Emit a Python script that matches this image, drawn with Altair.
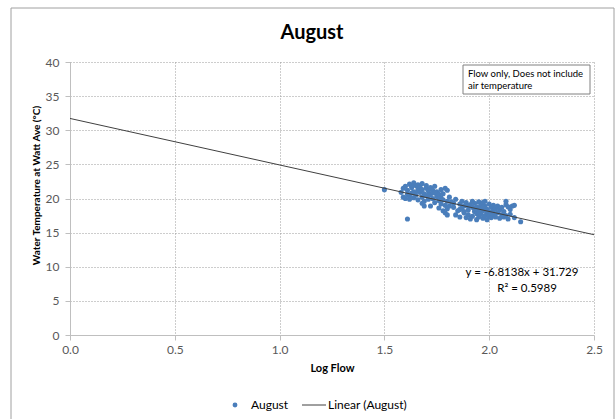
import altair as alt
import pandas as pd

# Scatter data (Log Flow, Water temperature)
log_flow = [
    1.50, 1.61,
    1.58, 1.59, 1.59, 1.60, 1.60, 1.61, 1.61, 1.62, 1.62, 1.62, 1.63, 1.63, 1.64, 1.64, 1.64,
    1.65, 1.65, 1.66, 1.66, 1.66, 1.67, 1.67, 1.68, 1.68, 1.68, 1.69, 1.69, 1.70, 1.70, 1.70,
    1.71, 1.71, 1.72, 1.72, 1.72, 1.73, 1.73, 1.74, 1.74, 1.74, 1.75, 1.75, 1.76, 1.76, 1.76,
    1.77, 1.77, 1.77, 1.78, 1.78, 1.78, 1.79, 1.79, 1.79, 1.80, 1.80, 1.80, 1.81, 1.81,
    1.68, 1.69, 1.80, 1.83, 1.63, 1.66, 1.71, 1.74,
    1.82, 1.83, 1.84, 1.84, 1.85, 1.86, 1.86, 1.87, 1.87, 1.88, 1.88, 1.89, 1.89, 1.90, 1.90,
    1.91, 1.91, 1.92, 1.92, 1.92, 1.93, 1.93, 1.94, 1.94, 1.94, 1.95, 1.95, 1.95, 1.96, 1.96,
    1.96, 1.97, 1.97, 1.97, 1.98, 1.98, 1.98, 1.99, 1.99, 1.99, 2.00, 2.00, 2.00, 2.01, 2.01,
    2.02, 2.02, 2.02, 2.03, 2.03, 2.04, 2.04, 2.05, 2.05, 2.06, 2.06, 2.07, 2.07, 2.08, 2.08,
    2.09, 2.09, 2.10, 2.10, 2.11, 2.12, 2.15, 2.12, 2.08,
    1.93, 1.95, 1.97, 1.99, 2.01, 1.90, 1.88, 1.86,
]
water_temp = [
    21.3, 17.0,
    20.9, 20.2, 21.5, 20.0, 21.8, 20.6, 21.2, 22.1, 20.3, 19.9, 21.6, 20.8, 22.3, 21.0, 20.1,
    21.9, 20.5, 21.4, 19.8, 22.0, 20.9, 21.7, 20.2, 21.3, 22.2, 20.7, 19.6, 21.5, 20.4, 21.9,
    21.1, 19.9, 20.6, 21.6, 18.9, 20.0, 21.2, 20.8, 19.4, 21.8, 20.3, 21.0, 19.7, 20.6, 18.6,
    21.3, 19.2, 20.1, 18.2, 19.8, 20.7, 17.9, 19.0, 21.5, 18.5, 19.6, 17.6, 20.2, 18.9,
    19.3, 18.9, 21.2, 19.3, 21.9, 21.1, 20.5, 20.9,
    19.5, 18.7, 17.6, 19.9, 18.2, 19.2, 17.3, 18.6, 19.6, 17.9, 18.9, 17.2, 19.4, 18.3, 17.6,
    19.1, 17.0, 18.7, 19.6, 17.4, 18.1, 19.3, 17.8, 18.8, 16.9, 19.5, 18.4, 17.3, 19.0, 17.7,
    18.6, 19.4, 17.1, 18.2, 18.9, 17.5, 19.6, 18.4, 17.9, 16.9, 19.2, 18.0, 17.4, 18.7, 17.2,
    19.0, 18.2, 17.7, 18.5, 17.3, 18.9, 17.9, 18.3, 17.1, 17.6, 18.7, 17.3, 18.1, 19.1, 17.5,
    18.8, 17.0, 18.4, 17.7, 18.9, 17.2, 16.6, 19.0, 19.6,
    18.5, 18.0, 18.7, 18.2, 17.9, 18.9, 18.1, 18.4,
]

# Linear trendline endpoints (y = -6.8138x + 31.729)
trend_x = [0.0, 2.5]
trend_y = [31.729, 14.695]

x_ticks = [0.0, 0.5, 1.0, 1.5, 2.0, 2.5]
y_ticks = [0, 5, 10, 15, 20, 25, 30, 35, 40]

title_text = "August"
x_title = "Log Flow"
y_title = "Water Temperature at Watt Ave (°C)"
note_lines = ["Flow only, Does not include", "air temperature"]
eq_lines = ["y = -6.8138x + 31.729", "R² = 0.5989"]
legend_labels = ["August", "Linear (August)"]

FONT = "Lato"
BLUE = "#4A7EBB"
GRAY_TXT = "#595959"

pts = pd.DataFrame({"x": log_flow, "y": water_temp})
trend = pd.DataFrame({"x": trend_x, "y": trend_y})
one = pd.DataFrame({"d": [0]})

xscale = alt.Scale(domain=[0, 2.5], nice=False, zero=False)
yscale = alt.Scale(domain=[0, 40], nice=False)

xaxis = alt.Axis(
    values=x_ticks, format=".1f", title=x_title, grid=True, labelOverlap=False,
    labelFlush=False,
    gridDash=[1, 2], gridColor="#9A9A9A", domainColor="#BFBFBF",
    tickColor="#BFBFBF", tickSize=5, labelColor=GRAY_TXT, labelFont=FONT,
    labelFontSize=12, labelPadding=4, titleFont=FONT, titleFontSize=11,
    titleFontWeight="bold", titleColor="#000000", titlePadding=7, zindex=0,
)
yaxis = alt.Axis(
    values=y_ticks, title=y_title, grid=True, labelOverlap=False,
    labelFlush=False,
    gridDash=[1, 2], gridColor="#9A9A9A", domainColor="#BFBFBF",
    tickColor="#BFBFBF", tickSize=5, labelColor=GRAY_TXT, labelFont=FONT,
    labelFontSize=12, labelPadding=6, titleFont=FONT, titleFontSize=10,
    titleFontWeight="bold", titleColor="#000000", titleX=-34, titleY=123,
    titleAngle=-90, titleBaseline="middle", titleAlign="center", zindex=0,
)

# outer chart border (outline only)
border = alt.Chart(one).mark_rect(fillOpacity=0, stroke="#A0A0A0", strokeWidth=1).encode(
    x=alt.value(-59), x2=alt.value(544), y=alt.value(-54), y2=alt.value(420)
)

scatter = alt.Chart(pts).mark_circle(size=26, color=BLUE, opacity=1).encode(
    x=alt.X("x:Q", scale=xscale, axis=xaxis),
    y=alt.Y("y:Q", scale=yscale, axis=yaxis),
)

line = alt.Chart(trend).mark_line(color="#404040", strokeWidth=1).encode(
    x=alt.X("x:Q", scale=xscale, axis=xaxis),
    y=alt.Y("y:Q", scale=yscale, axis=yaxis),
)

title = alt.Chart(one).mark_text(
    text=title_text, font=FONT, fontSize=20, fontWeight="bold", color="#000000",
    align="center", baseline="middle",
).encode(x=alt.value(242), y=alt.value(-29))

note_box = alt.Chart(one).mark_rect(fill="white", stroke="#808080", strokeWidth=1).encode(
    x=alt.value(393), x2=alt.value(520), y=alt.value(3), y2=alt.value(32)
)
note1 = alt.Chart(one).mark_text(
    text=note_lines[0], font=FONT, fontSize=9.5, color="#000000", align="left", baseline="middle"
).encode(x=alt.value(398), y=alt.value(12))
note2 = alt.Chart(one).mark_text(
    text=note_lines[1], font=FONT, fontSize=9.5, color="#000000", align="left", baseline="middle"
).encode(x=alt.value(398), y=alt.value(24))

eq1 = alt.Chart(one).mark_text(
    text=eq_lines[0], font=FONT, fontSize=11.5, color="#000000", align="center", baseline="middle"
).encode(x=alt.value(452), y=alt.value(211))
eq2 = alt.Chart(one).mark_text(
    text=eq_lines[1], font=FONT, fontSize=11.5, color="#000000", align="center", baseline="middle"
).encode(x=alt.value(457), y=alt.value(227))

leg_pt = alt.Chart(one).mark_circle(size=24, color=BLUE, opacity=1).encode(
    x=alt.value(165), y=alt.value(343)
)
leg_t1 = alt.Chart(one).mark_text(
    text=legend_labels[0], font=FONT, fontSize=12, color="#000000", align="left", baseline="middle"
).encode(x=alt.value(181), y=alt.value(343))
leg_rule = alt.Chart(one).mark_rule(color="#404040", strokeWidth=1).encode(
    x=alt.value(232), x2=alt.value(256), y=alt.value(343)
)
leg_t2 = alt.Chart(one).mark_text(
    text=legend_labels[1], font=FONT, fontSize=12, color="#000000", align="left", baseline="middle"
).encode(x=alt.value(258), y=alt.value(343))

chart = alt.layer(
    border, scatter, line, title, note_box, note1, note2, eq1, eq2,
    leg_pt, leg_t1, leg_rule, leg_t2,
).properties(
    width=524, height=273,
    autosize=alt.AutoSizeParams(type="none"),
    padding={"left": 70, "top": 62, "right": 21, "bottom": 84},
    background="white",
).configure_view(stroke=None)

chart.save("out.html", embed_options={"renderer": "svg", "actions": False})
